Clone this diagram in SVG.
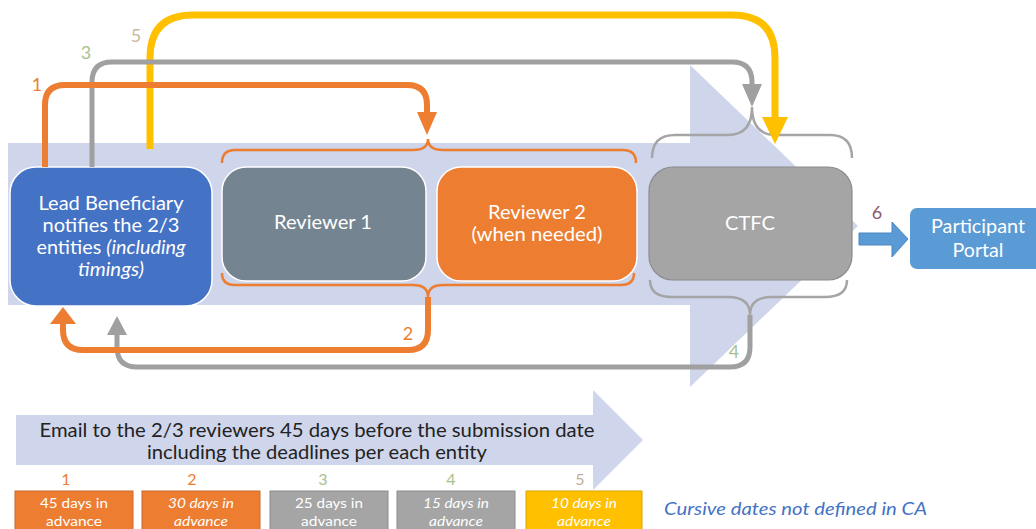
<svg xmlns="http://www.w3.org/2000/svg" width="1036" height="529" viewBox="0 0 1036 529">
  <style>
    text { font-family: Lato, "Open Sans", "Liberation Sans", sans-serif; }
    .band { fill: #cfd5ea; }
    .node-text { fill: #ffffff; font-size: 19px; text-anchor: middle; }
    .it { font-style: italic; }
    .brace-o { fill: none; stroke: #ed7d31; stroke-width: 2.5; }
    .brace-g { fill: none; stroke: #a5a5a5; stroke-width: 2.5; }
    .link-o { fill: none; stroke: #ed7d31; stroke-width: 6; }
    .link-g { fill: none; stroke: #a0a0a0; stroke-width: 5; }
    .link-y { fill: none; stroke: #ffc000; stroke-width: 7; }
    .step { font-size: 18px; text-anchor: middle; }
    .step-sm { font-size: 16px; text-anchor: middle; }
    .day-box text { fill: #ffffff; font-size: 14px; text-anchor: middle; }
  </style>
  <defs>
    <marker id="head-o" markerUnits="userSpaceOnUse" markerWidth="24" markerHeight="22" refX="0" refY="11" orient="auto" viewBox="0 0 24 22">
      <path d="M0,1 L23,11 L0,21 Z" fill="#ed7d31"/>
    </marker>
    <marker id="head-o2" markerUnits="userSpaceOnUse" markerWidth="18" markerHeight="28" refX="0" refY="14" orient="auto" viewBox="0 0 18 28">
      <path d="M0,1 L17,14 L0,27 Z" fill="#ed7d31"/>
    </marker>
    <marker id="head-g" markerUnits="userSpaceOnUse" markerWidth="24" markerHeight="22" refX="0" refY="11" orient="auto" viewBox="0 0 24 22">
      <path d="M0,1 L23,11 L0,21 Z" fill="#a0a0a0"/>
    </marker>
    <marker id="head-g2" markerUnits="userSpaceOnUse" markerWidth="20" markerHeight="22" refX="0" refY="11" orient="auto" viewBox="0 0 20 22">
      <path d="M0,1 L19,11 L0,21 Z" fill="#a0a0a0"/>
    </marker>
    <marker id="head-y" markerUnits="userSpaceOnUse" markerWidth="28" markerHeight="28" refX="0" refY="14" orient="auto" viewBox="0 0 28 28">
      <path d="M0,1 L27,14 L0,27 Z" fill="#ffc000"/>
    </marker>
  </defs>

  <rect width="1036" height="529" fill="#ffffff"/>

  <!-- background process arrows -->
  <path class="band" d="M8,143 H690 V65 L858,226 L690,387 V305 H8 Z"/>
  <path class="band" d="M16,415 H593 V390 L643,440 L593,490 V465 H16 Z"/>

  <!-- braces grouping the reviewers and CTFC -->
  <g id="braces">
    <path class="brace-o" d="M222,163 Q222,150 235,150 H413 Q428,150 428,139 Q428,150 443,150 H623 Q636,150 636,163"/>
    <path class="brace-o" d="M222,273 Q222,285 235,285 H413 Q428,285 428,297 Q428,285 443,285 H621 Q634,285 634,273"/>
    <path class="brace-g" d="M652,158 Q652,135 675,135 H728 Q752,135 752,107 Q752,135 776,135 H830 Q852,135 852,158"/>
    <path class="brace-g" d="M650,280 Q650,297 672,297 H728 Q750,297 750,315 Q750,297 772,297 H825 Q847,297 847,280"/>
  </g>

  <!-- nodes -->
  <g id="lead-beneficiary">
    <rect x="10" y="167" width="202" height="139" rx="26" fill="#4472c4" stroke="#ffffff" stroke-width="1.5"/>
    <text class="node-text" x="111" y="210" textLength="145" lengthAdjust="spacingAndGlyphs">Lead Beneficiary</text>
    <text class="node-text" x="111" y="232" textLength="137" lengthAdjust="spacingAndGlyphs">notifies the 2/3</text>
    <text class="node-text" x="111" y="254" textLength="149" lengthAdjust="spacingAndGlyphs">entities <tspan class="it">(including</tspan></text>
    <text class="node-text it" x="111" y="276" textLength="66" lengthAdjust="spacingAndGlyphs">timings)</text>
  </g>
  <g id="reviewer-1">
    <rect x="222" y="167" width="204" height="114" rx="24" fill="#748591" stroke="#ffffff" stroke-width="1.5"/>
    <text class="node-text" x="323" y="229" textLength="98" lengthAdjust="spacingAndGlyphs">Reviewer 1</text>
  </g>
  <g id="reviewer-2">
    <rect x="437" y="167" width="200" height="114" rx="24" fill="#ed7d31" stroke="#ffffff" stroke-width="1.5"/>
    <text class="node-text" x="537" y="219" textLength="98" lengthAdjust="spacingAndGlyphs">Reviewer 2</text>
    <text class="node-text" x="537" y="241" textLength="131" lengthAdjust="spacingAndGlyphs">(when needed)</text>
  </g>
  <g id="ctfc">
    <rect x="649" y="167" width="203" height="113" rx="24" fill="#a5a5a5" stroke="#8c8c8c" stroke-width="1.2"/>
    <text class="node-text" x="750" y="230" textLength="50" lengthAdjust="spacingAndGlyphs">CTFC</text>
  </g>
  <g id="participant-portal">
    <rect x="910" y="208" width="140" height="61" rx="7" fill="#5b9bd5"/>
    <text class="node-text" x="978" y="233" textLength="94" lengthAdjust="spacingAndGlyphs">Participant</text>
    <text class="node-text" x="978" y="257" textLength="51" lengthAdjust="spacingAndGlyphs">Portal</text>
  </g>

  <!-- connectors -->
  <g id="connectors">
    <path class="link-y" d="M150,149 V58 Q150,15 193,15 H732 Q775,15 775,58 V117" marker-end="url(#head-y)"/>
    <path class="link-g" d="M92,167 V82 Q92,62 112,62 H732 Q752,62 752,82 V84" marker-end="url(#head-g)"/>
    <path class="link-o" d="M45,167 V105 Q45,85 65,85 H407 Q427,85 427,105 V112" marker-end="url(#head-o)"/>
    <path class="link-g" d="M750,315 V347 Q750,367 730,367 H137 Q117,367 117,347 V335" marker-end="url(#head-g2)"/>
    <path class="link-o" d="M428,297 V330 Q428,350 408,350 H83 Q63,350 63,330 V324" marker-end="url(#head-o2)"/>
    <path d="M859,233 H892 V222 L908,239 L892,257 V245 H859 Z" fill="#5b9bd5" stroke="#4a86c0" stroke-width="1"/>

    <text class="step" x="37" y="91" fill="#ed7d31">1</text>
    <text class="step" x="408" y="340" fill="#ed7d31">2</text>
    <text class="step" x="86" y="59" fill="#a9c08f">3</text>
    <text class="step" x="734" y="358" fill="#a9c08f">4</text>
    <text class="step" x="136" y="42" fill="#c8b8a0">5</text>
    <text class="step" x="877" y="219" fill="#8b5a6b">6</text>
  </g>

  <!-- timeline -->
  <g id="timeline">
    <text x="317" y="437" font-size="19" fill="#222222" text-anchor="middle" textLength="555" lengthAdjust="spacingAndGlyphs">Email to the 2/3 reviewers 45 days before the submission date</text>
    <text x="317" y="459" font-size="19" fill="#222222" text-anchor="middle" textLength="340" lengthAdjust="spacingAndGlyphs">including the deadlines per each entity</text>

    <text class="step-sm" x="66" y="485" fill="#ed7d31">1</text>
    <text class="step-sm" x="192" y="485" fill="#ed7d31">2</text>
    <text class="step-sm" x="323" y="485" fill="#a9c08f">3</text>
    <text class="step-sm" x="451" y="485" fill="#a9c08f">4</text>
    <text class="step-sm" x="580" y="485" fill="#c0b09a">5</text>

    <g class="day-box" id="deadline-1">
      <rect x="15" y="491" width="118" height="40" fill="#ed7d31" stroke="#c86a2a"/>
      <text x="74" y="508" textLength="68" lengthAdjust="spacingAndGlyphs">45 days in</text>
      <text x="74" y="526" textLength="56" lengthAdjust="spacingAndGlyphs">advance</text>
    </g>
    <g class="day-box" id="deadline-2">
      <rect x="142" y="491" width="118" height="40" fill="#ed7d31" stroke="#c86a2a"/>
      <text class="it" x="201" y="508" textLength="66" lengthAdjust="spacingAndGlyphs">30 days in</text>
      <text class="it" x="201" y="526" textLength="54" lengthAdjust="spacingAndGlyphs">advance</text>
    </g>
    <g class="day-box" id="deadline-3">
      <rect x="270" y="491" width="118" height="40" fill="#a5a5a5" stroke="#8c8c8c"/>
      <text x="329" y="508" textLength="68" lengthAdjust="spacingAndGlyphs">25 days in</text>
      <text x="329" y="526" textLength="56" lengthAdjust="spacingAndGlyphs">advance</text>
    </g>
    <g class="day-box" id="deadline-4">
      <rect x="397" y="491" width="118" height="40" fill="#a5a5a5" stroke="#8c8c8c"/>
      <text class="it" x="456" y="508" textLength="66" lengthAdjust="spacingAndGlyphs">15 days in</text>
      <text class="it" x="456" y="526" textLength="54" lengthAdjust="spacingAndGlyphs">advance</text>
    </g>
    <g class="day-box" id="deadline-5">
      <rect x="526" y="491" width="116" height="40" fill="#ffc000" stroke="#d9a300"/>
      <text class="it" x="584" y="508" textLength="66" lengthAdjust="spacingAndGlyphs">10 days in</text>
      <text class="it" x="584" y="526" textLength="54" lengthAdjust="spacingAndGlyphs">advance</text>
    </g>
    <text class="it" x="664" y="515" font-size="18" fill="#4472c4" textLength="263" lengthAdjust="spacingAndGlyphs">Cursive dates not defined in CA</text>
  </g>
</svg>
